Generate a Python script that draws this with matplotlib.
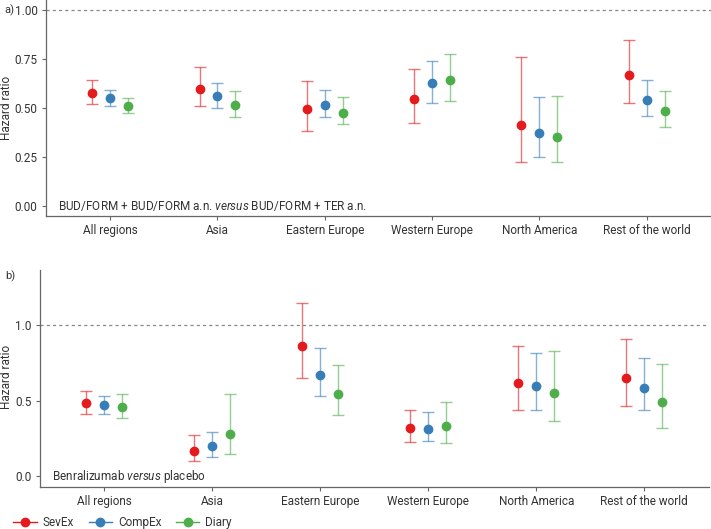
import matplotlib
matplotlib.use("Agg")
import matplotlib.pyplot as plt
from matplotlib.lines import Line2D
import numpy as np

plt.rcParams['font.family'] = ['Roboto', 'DejaVu Sans']
plt.rcParams['mathtext.fontset'] = 'custom'
plt.rcParams['mathtext.rm'] = 'Roboto'
plt.rcParams['mathtext.it'] = 'Roboto:italic'

regions = ['All regions', 'Asia', 'Eastern Europe', 'Western Europe', 'North America', 'Rest of the world']
series = ['SevEx', 'CompEx', 'Diary']
colors = ['#E41A1C', '#377EB8', '#4DAF4A']

# panel a: BUD/FORM + BUD/FORM a.n. versus BUD/FORM + TER a.n.
a_hr = {'SevEx':  [0.578, 0.599, 0.493, 0.544, 0.415, 0.667],
        'CompEx': [0.549, 0.560, 0.517, 0.626, 0.371, 0.543],
        'Diary':  [0.510, 0.514, 0.476, 0.643, 0.354, 0.485]}
a_lo = {'SevEx':  [0.519, 0.510, 0.381, 0.422, 0.226, 0.524],
        'CompEx': [0.512, 0.502, 0.454, 0.527, 0.248, 0.461],
        'Diary':  [0.476, 0.452, 0.417, 0.534, 0.223, 0.403]}
a_hi = {'SevEx':  [0.641, 0.707, 0.636, 0.697, 0.759, 0.845],
        'CompEx': [0.590, 0.626, 0.590, 0.738, 0.556, 0.641],
        'Diary':  [0.553, 0.585, 0.554, 0.774, 0.560, 0.585]}

# panel b: Benralizumab versus placebo
b_hr = {'SevEx':  [0.487, 0.170, 0.863, 0.319, 0.615, 0.650],
        'CompEx': [0.471, 0.199, 0.668, 0.312, 0.597, 0.584],
        'Diary':  [0.456, 0.283, 0.544, 0.330, 0.555, 0.491]}
b_lo = {'SevEx':  [0.416, 0.104, 0.648, 0.228, 0.436, 0.467],
        'CompEx': [0.416, 0.131, 0.533, 0.232, 0.438, 0.438],
        'Diary':  [0.383, 0.148, 0.403, 0.223, 0.369, 0.321]}
b_hi = {'SevEx':  [0.562, 0.272, 1.146, 0.442, 0.861, 0.907],
        'CompEx': [0.535, 0.296, 0.847, 0.429, 0.814, 0.781],
        'Diary':  [0.542, 0.542, 0.735, 0.489, 0.830, 0.746]}

grey = '#666666'
txt = '#333333'
W, H = 711, 529

fig = plt.figure(figsize=(7.11, 5.29), dpi=100)
ax_a = fig.add_axes([0.0643, 0.5917, 0.9357, 0.4083])
ax_b = fig.add_axes([0.0558, 0.0794, 0.9414, 0.4102])


def draw(ax, hr, lo, hi, ylim, yticks, ylabels, note):
    x = np.arange(1, len(regions) + 1)
    offs = [-1/6, 0, 1/6]
    for s, c, o in zip(series, colors, offs):
        h = np.array(hr[s]); l = np.array(lo[s]); u = np.array(hi[s])
        ax.errorbar(x + o, h, yerr=[h - l, u - h], fmt='none', ecolor=c,
                    alpha=0.6, elinewidth=1.0, capsize=4, capthick=1.0, zorder=2)
        ax.plot(x + o, h, 'o', color=c, markersize=6, zorder=3)
    ax.axhline(1.0, color='#888888', linestyle=(0, (2.5, 2.5)), linewidth=0.9, zorder=1)
    ax.set_xlim(0.4, 6.6)
    ax.set_ylim(*ylim)
    ax.set_xticks(x)
    ax.set_xticklabels(regions, fontsize=8.5, color=txt)
    ax.set_yticks(yticks)
    ax.set_yticklabels(ylabels, fontsize=8.5, color=txt)
    for sp in ['top', 'right']:
        ax.spines[sp].set_visible(False)
    for sp in ['left', 'bottom']:
        ax.spines[sp].set_color(grey)
        ax.spines[sp].set_linewidth(0.9)
    ax.tick_params(colors=grey, length=3, width=0.8, pad=3)
    ax.tick_params(labelcolor=txt)
    ax.text(0.018, 0.0, note, transform=ax.get_yaxis_transform(),
            fontsize=8.5, color=txt, va='center', ha='left')
    ax.set_facecolor('none')


draw(ax_a, a_hr, a_lo, a_hi, (-0.05, 1.05), [0, 0.25, 0.5, 0.75, 1.0],
     ['0.00', '0.25', '0.50', '0.75', '1.00'],
     r'BUD/FORM + BUD/FORM a.n. $\it{versus}$ BUD/FORM + TER a.n.')
draw(ax_b, b_hr, b_lo, b_hi, (-0.071, 1.367), [0, 0.5, 1.0],
     ['0.0', '0.5', '1.0'],
     r'Benralizumab $\it{versus}$ placebo')

# y axis titles and panel tags
fig.text(7 / W, 1 - 108 / H, 'Hazard ratio', rotation=90, fontsize=8.5, color=txt,
         ha='center', va='center')
fig.text(7 / W, 1 - 377 / H, 'Hazard ratio', rotation=90, fontsize=8.5, color=txt,
         ha='center', va='center')
fig.text(4 / W, 1 - 10 / H, 'a)', fontsize=8, color=txt, va='center')
fig.text(5 / W, 1 - 276 / H, 'b)', fontsize=8, color=txt, va='center')

handles = [Line2D([0], [0], color=c, marker='o', markersize=6, linewidth=1.0)
           for c in colors]
fig.legend(handles, series, loc='lower left', bbox_to_anchor=(0.004, -0.02), ncol=3,
           frameon=False, fontsize=8.5, handlelength=2.0, handletextpad=0.5,
           columnspacing=1.2, labelcolor=txt)

fig.savefig('out.png', dpi=100)
